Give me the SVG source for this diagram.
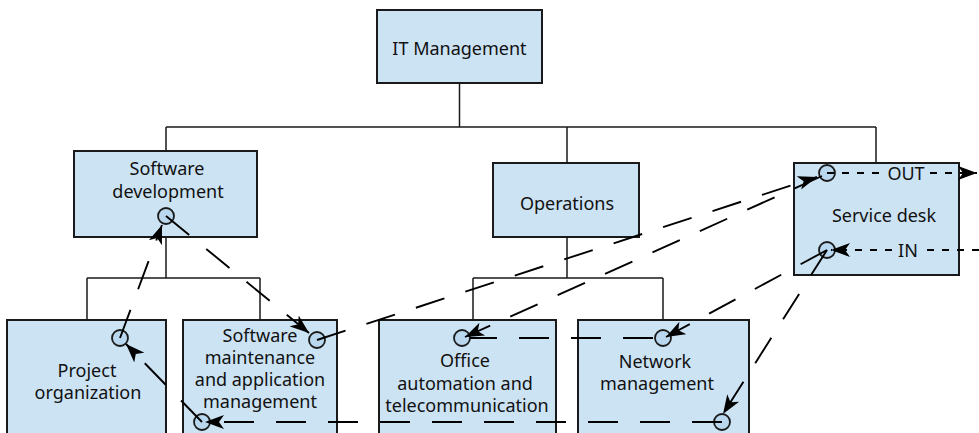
<svg xmlns="http://www.w3.org/2000/svg" width="979" height="433" viewBox="0 0 979 433">
<style>
.box{fill:#cce3f4;stroke:#1a1a1a;stroke-width:2}
.tree{fill:none;stroke:#1a1a1a;stroke-width:1.5}
.lbl{font-family:"Noto Sans","Open Sans",sans-serif;font-size:18px;fill:#111;text-anchor:middle}
.pt{fill:#b9d7ee;stroke:#1a1a1a;stroke-width:1.8}
.ld{fill:none;stroke:#000;stroke-width:1.9;stroke-dasharray:30 22}
.sd{fill:none;stroke:#000;stroke-width:1.9;stroke-dasharray:7 8}
</style>
<defs>
<marker id="ah" markerUnits="userSpaceOnUse" markerWidth="20" markerHeight="16" refX="19" refY="8" orient="auto">
<path d="M0,1 L19,8 L0,15 L5,8 Z" fill="#000"/>
</marker>
</defs>
<rect width="979" height="433" fill="#fff"/>
<g id="tree-lines">
<path class="tree" d="M459.5,83 V127 M166,127 H876 M166,127 V151 M567,127 V163 M876,127 V163 M166,237 V278 M87,278 H260 M87,278 V320 M260,278 V320 M567,237 V278 M473,278 H663 M473,278 V320 M663,278 V320"/>
</g>
<g id="it-management">
<rect class="box" x="377" y="10" width="165" height="73"/>
<text class="lbl" x="459.5" y="55">IT Management</text>
</g>
<g id="software-development">
<rect class="box" x="74" y="151" width="183" height="86"/>
<text class="lbl" x="167" y="175">Software</text>
<text class="lbl" x="168" y="198">development</text>
</g>
<g id="operations">
<rect class="box" x="493" y="163" width="146" height="74"/>
<text class="lbl" x="567" y="210">Operations</text>
</g>
<g id="service-desk">
<rect class="box" x="794" y="163" width="165" height="112"/>
<text class="lbl" x="884" y="222">Service desk</text>
</g>
<g id="project-organization">
<rect class="box" x="7" y="320" width="159" height="130"/>
<text class="lbl" x="87" y="377">Project</text>
<text class="lbl" x="88" y="399">organization</text>
</g>
<g id="software-maintenance">
<rect class="box" x="183" y="320" width="154" height="130"/>
<text class="lbl" x="260" y="342">Software</text>
<text class="lbl" x="260" y="364">maintenance</text>
<text class="lbl" x="260" y="386">and application</text>
<text class="lbl" x="260" y="408">management</text>
</g>
<g id="office-automation">
<rect class="box" x="379" y="320" width="177" height="130"/>
<text class="lbl" x="465" y="367">Office</text>
<text class="lbl" x="465" y="390">automation and</text>
<text class="lbl" x="467" y="412">telecommunication</text>
</g>
<g id="network-management">
<rect class="box" x="578" y="320" width="171" height="130"/>
<text class="lbl" x="655" y="368">Network</text>
<text class="lbl" x="657" y="390">management</text>
</g>
<g id="points">
<circle class="pt" cx="166" cy="216" r="8"/>
<circle class="pt" cx="120" cy="338" r="8"/>
<circle class="pt" cx="317" cy="340" r="8"/>
<circle class="pt" cx="202" cy="422" r="8"/>
<circle class="pt" cx="462" cy="338" r="8"/>
<circle class="pt" cx="663" cy="338" r="8"/>
<circle class="pt" cx="722" cy="422" r="8"/>
<circle class="pt" cx="827" cy="173" r="8"/>
<circle class="pt" cx="827" cy="250" r="8"/>
</g>
<g id="connectors">
<line class="ld" x1="166" y1="216" x2="309" y2="333" marker-end="url(#ah)"/>
<line class="ld" x1="120" y1="338" x2="162" y2="225" marker-end="url(#ah)"/>
<line class="ld" x1="202" y1="422" x2="126" y2="344" marker-end="url(#ah)"/>
<line class="ld" x1="317" y1="340" x2="817" y2="177" marker-end="url(#ah)"/>
<line class="ld" x1="822" y1="176" x2="465" y2="337" marker-end="url(#ah)"/>
<line class="ld" x1="827" y1="250" x2="666" y2="337" marker-end="url(#ah)"/>
<line class="ld" x1="827" y1="250" x2="723" y2="414" marker-end="url(#ah)"/>
<line class="ld" x1="653" y1="338" x2="470" y2="338"/>
<line class="ld" x1="722" y1="422" x2="205" y2="422" marker-end="url(#ah)"/>
<line class="sd" x1="827" y1="173" x2="883" y2="173"/>
<line class="sd" x1="930" y1="173" x2="977" y2="173" marker-end="url(#ah)"/>
<line class="sd" x1="979" y1="250" x2="926" y2="250"/>
<line class="sd" x1="892" y1="250" x2="831" y2="250" marker-end="url(#ah)"/>
<text class="lbl" x="906" y="180">OUT</text>
<text class="lbl" x="908" y="257">IN</text>
</g>
</svg>
